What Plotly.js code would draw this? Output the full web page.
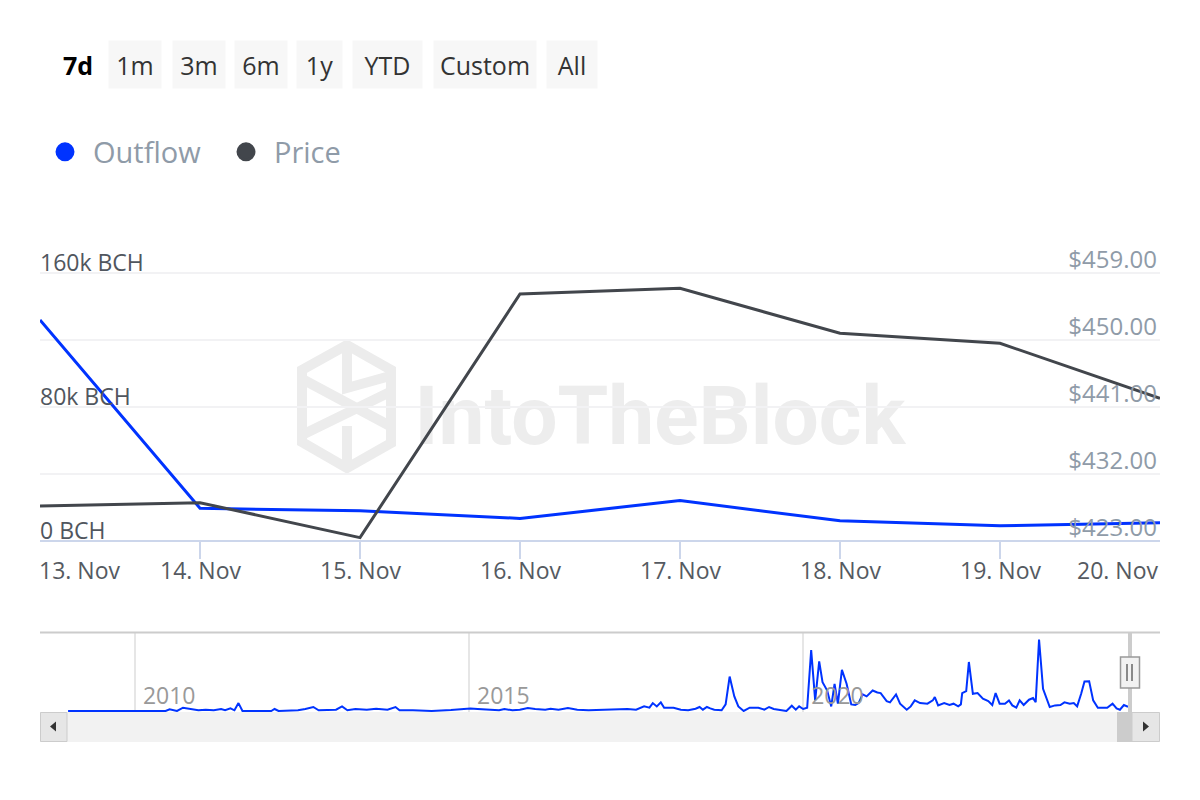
<!DOCTYPE html>
<html>
<head>
<meta charset="utf-8">
<script src="https://cdn.plot.ly/plotly-3.0.1.min.js"></script>
<style>
  html, body { margin: 0; padding: 0; background: #ffffff; }
  #chart { width: 1200px; height: 800px; }
</style>
</head>
<body>
<div id="chart"></div>
<script>
// ---------------- DATA ----------------
const dates = ['2024-11-13', '2024-11-14', '2024-11-15', '2024-11-16', '2024-11-17', '2024-11-18', '2024-11-19', '2024-11-20'];
const dateLabels = ['13. Nov', '14. Nov', '15. Nov', '16. Nov', '17. Nov', '18. Nov', '19. Nov', '20. Nov'];
const outflow = [132000, 19500, 18100, 13500, 24100, 12100, 9100, 10900];
const price = [427.70, 428.15, 423.45, 456.18, 456.95, 450.90, 449.56, 442.17];

const outflowTicks = [0, 80000, 160000];
const outflowTickText = ['0 BCH', '80k BCH', '160k BCH'];
const priceTicks = [423, 432, 441, 450, 459];

const seriesNames = ['Outflow', 'Price'];
const rangeButtons = ['7d', '1m', '3m', '6m', '1y', 'YTD', 'Custom', 'All'];

// navigator (full history, decimal years / relative outflow level)
const navYears = [
  2009.00, 2010.46, 2010.52, 2010.63, 2010.72, 2010.83, 2010.95, 2011.06, 2011.18, 2011.29,
  2011.35, 2011.43, 2011.49, 2011.55, 2011.61, 2012.04, 2012.09, 2012.15, 2012.44, 2012.55,
  2012.67, 2012.75, 2013.01, 2013.10, 2013.18, 2013.30, 2013.47, 2013.61, 2013.78, 2013.90,
  2013.96, 2014.16, 2014.44, 2014.73, 2014.90, 2015.02, 2015.13, 2015.30, 2015.45, 2015.53,
  2015.65, 2015.76, 2015.88, 2015.99, 2016.14, 2016.22, 2016.34, 2016.48, 2016.62, 2016.79,
  2017.02, 2017.20, 2017.37, 2017.50, 2017.62, 2017.70, 2017.75, 2017.81, 2017.87, 2017.92,
  2018.06, 2018.17, 2018.28, 2018.39, 2018.45, 2018.50, 2018.56, 2018.61, 2018.67, 2018.78,
  2018.84, 2018.90, 2018.97, 2019.03, 2019.11, 2019.20, 2019.33, 2019.42, 2019.49, 2019.56,
  2019.72, 2019.75, 2019.83, 2019.89, 2019.94, 2020.00, 2020.06, 2020.12, 2020.18, 2020.24,
  2020.29, 2020.36, 2020.42, 2020.47, 2020.52, 2020.58, 2020.65, 2020.72, 2020.78, 2020.83,
  2020.89, 2020.95, 2021.04, 2021.11, 2021.16, 2021.25, 2021.30, 2021.39, 2021.45, 2021.55,
  2021.61, 2021.67, 2021.75, 2021.86, 2021.94, 2021.97, 2022.02, 2022.11, 2022.19, 2022.25,
  2022.32, 2022.36, 2022.38, 2022.44, 2022.48, 2022.54, 2022.61, 2022.69, 2022.77, 2022.83,
  2022.88, 2022.94, 2023.02, 2023.08, 2023.13, 2023.19, 2023.24, 2023.30, 2023.38, 2023.44,
  2023.48, 2023.53, 2023.59, 2023.69, 2023.77, 2023.85, 2023.91, 2023.99, 2024.05, 2024.10,
  2024.16, 2024.21, 2024.28, 2024.34, 2024.41, 2024.55, 2024.63, 2024.69, 2024.74, 2024.80,
  2024.85, 2024.89
];
const navOutflow = [
  0, 0, 1.7, 0, 3.3, 2.0, 0.7, 1.3, 0.7, 2.0,
  0.7, 2.6, 0.7, 7.9, 0, 0, 2.0, 0, 0.7, 2.0,
  4.0, 0.7, 1.3, 4.6, 0.7, 2.0, 1.3, 2.3, 1.3, 4.0,
  0.7, 0.7, 0, 1.0, 2.0, 2.6, 2.0, 1.3, 0.7, 2.0,
  0.7, 1.3, 3.0, 2.0, 1.3, 2.3, 1.3, 3.0, 1.3, 0.7,
  1.3, 2.0, 2.0, 1.3, 4.6, 3.3, 7.9, 4.6, 8.6, 3.3,
  3.3, 1.3, 0.7, 2.3, 4.0, 1.3, 4.0, 2.6, 1.3, 0.7,
  6.6, 34.4, 14.6, 4.6, 0, 3.3, 3.3, 1.3, 4.0, 2.0,
  0.7, 0, 5.3, 1.3, 4.6, 2.0, 3.3, 60.9, 10.6, 49.7,
  28.8, 20.5, 4.6, 27.2, 7.3, 41.1, 27.2, 6.6, 6.0, 7.9,
  16.6, 14.6, 20.5, 18.5, 17.9, 9.9, 8.6, 16.6, 7.3, 1.3,
  4.6, 10.6, 7.9, 7.3, 10.6, 13.9, 5.6, 7.9, 6.0, 7.3,
  4.6, 6.6, 17.9, 19.9, 49.0, 17.2, 17.9, 12.3, 9.9, 6.0,
  17.9, 7.3, 7.3, 10.6, 5.6, 3.3, 10.6, 6.0, 11.3, 12.9,
  8.9, 71.5, 22.2, 4.0, 5.6, 6.0, 8.6, 7.3, 7.9, 4.6,
  17.2, 29.5, 29.8, 10.6, 3.3, 3.3, 7.3, 2.6, 1.3, 6.0,
  4.6, 4.6
];
const navTicks = [2010, 2015, 2020];
const navTickText = ['2010', '2015', '2020'];
const watermark = 'IntoTheBlock';

// ---------------- STYLE / LAYOUT ----------------
const W = 1200, H = 800;
const px = v => v / W;
const py = v => 1 - v / H;
const FONT = 'Open Sans, Noto Sans, sans-serif';
const BLUE = '#0033ff';
const DARK = '#42464c';

// plot area: gridlines 273..541 px; extra room above/below so edge labels stay visible
const TOP_PAD = 60, BOT_PAD = 16;
const OUT_MAX = 160000, PRICE_MIN = 423, PRICE_MAX = 459;
const plotH = 541 - 273;
const outPerPx = OUT_MAX / plotH;
const pricePerPx = (PRICE_MAX - PRICE_MIN) / plotH;
const outRange = [-outPerPx * BOT_PAD, OUT_MAX + outPerPx * TOP_PAD];
const priceRange = [PRICE_MIN - pricePerPx * BOT_PAD, PRICE_MAX + pricePerPx * TOP_PAD];
const priceTickText = priceTicks.map(v => '$' + v.toFixed(2));

const traces = [
  { x: dates, y: outflow, type: 'scatter', mode: 'lines', name: seriesNames[0],
    line: { color: BLUE, width: 3 }, xaxis: 'x', yaxis: 'y', showlegend: false, hoverinfo: 'skip' },
  { x: dates, y: price, type: 'scatter', mode: 'lines', name: seriesNames[1],
    line: { color: DARK, width: 3 }, xaxis: 'x', yaxis: 'y2', showlegend: false, hoverinfo: 'skip' },
  { x: navYears, y: navOutflow, type: 'scatter', mode: 'lines', name: seriesNames[0] + ' (navigator)',
    line: { color: BLUE, width: 2 }, xaxis: 'x2', yaxis: 'y3', showlegend: false, hoverinfo: 'skip' },
  { x: [null], y: [null], type: 'scatter', mode: 'markers', name: seriesNames[0],
    marker: { color: BLUE, size: 16, line: { color: BLUE, width: 3 } }, xaxis: 'x', yaxis: 'y' },
  { x: [null], y: [null], type: 'scatter', mode: 'markers', name: seriesNames[1],
    marker: { color: DARK, size: 16, line: { color: DARK, width: 3 } }, xaxis: 'x', yaxis: 'y' }
];

// range-selector button boxes [left px, width px]
const btnBoxes = [[58, 38], [108, 52], [172, 52], [234, 52], [296, 45], [352, 69], [433, 102], [546, 50]];
const annotations = [];
rangeButtons.forEach((b, i) => {
  const active = i === 0;
  annotations.push({
    xref: 'paper', yref: 'paper', x: px(btnBoxes[i][0]), xanchor: 'left',
    y: py(64.5), yanchor: 'middle', showarrow: false,
    text: active ? '<b>' + b + '</b>' : b, width: btnBoxes[i][1], height: 47, borderpad: 0,
    align: 'center', valign: 'middle',
    bgcolor: active ? 'rgba(0,0,0,0)' : '#f7f7f7',
    font: { family: FONT, size: 25, color: active ? '#000000' : '#333333' }
  });
});
// x tick labels (first left-aligned, last right-aligned, like the original)
dates.forEach((d, i) => {
  annotations.push({
    xref: 'x', yref: 'paper', x: d, y: py(570), yanchor: 'middle', showarrow: false,
    xanchor: i === 0 ? 'left' : (i === dates.length - 1 ? 'right' : 'center'),
    xshift: i === 0 ? -3 : 0,
    text: dateLabels[i], font: { family: FONT, size: 23, color: '#555a61' }
  });
});

const GRID_LINE = { color: '#cccccc', width: 2 };
const shapes = [
  // watermark logo
  { type: 'path', xref: 'paper', yref: 'paper', layer: 'below',
    path: 'M' + px(347) + ',' + py(345) + ' L' + px(391) + ',' + py(370) + ' L' + px(391) + ',' + py(443) +
          ' L' + px(347) + ',' + py(468) + ' L' + px(302) + ',' + py(442) + ' L' + px(302) + ',' + py(370) + ' Z',
    line: { color: '#ececec', width: 10 } },
  { type: 'path', xref: 'paper', yref: 'paper', layer: 'below',
    path: 'M' + px(347) + ',' + py(348) + ' L' + px(347) + ',' + py(388) + ' L' + px(390) + ',' + py(376) +
          ' M' + px(304) + ',' + py(380) + ' L' + px(390) + ',' + py(426) +
          ' M' + px(304) + ',' + py(434) + ' L' + px(390) + ',' + py(392) +
          ' M' + px(347) + ',' + py(426) + ' L' + px(347) + ',' + py(465),
    line: { color: '#ececec', width: 10 } },
  // watermark text (drawn under the lines)
  { type: 'rect', xref: 'paper', yref: 'paper', layer: 'below',
    x0: px(410), x1: px(910), y0: py(450), y1: py(370),
    line: { width: 0 }, fillcolor: 'rgba(0,0,0,0)',
    label: { text: '<b>' + watermark + '</b>', textposition: 'middle center',
             font: { family: 'Roboto, Open Sans, sans-serif', size: 82, color: '#ededed' } } },
  // navigator top border
  { type: 'line', xref: 'paper', yref: 'paper', x0: px(40), x1: px(1160), y0: py(632.5), y1: py(632.5), line: GRID_LINE },
  // scrollbar
  { type: 'rect', xref: 'paper', yref: 'paper', x0: px(40), x1: px(1160), y0: py(742), y1: py(712),
    fillcolor: '#f2f2f2', line: { width: 0 } },
  { type: 'rect', xref: 'paper', yref: 'paper', x0: px(40.5), x1: px(67), y0: py(741.5), y1: py(712.5),
    fillcolor: '#e6e6e6', line: { color: '#cccccc', width: 1 } },
  { type: 'rect', xref: 'paper', yref: 'paper', x0: px(1132), x1: px(1159.5), y0: py(741.5), y1: py(712.5),
    fillcolor: '#e6e6e6', line: { color: '#cccccc', width: 1 } },
  { type: 'rect', xref: 'paper', yref: 'paper', x0: px(1117), x1: px(1132), y0: py(742), y1: py(712),
    fillcolor: '#cccccc', line: { width: 0 } },
  { type: 'path', xref: 'paper', yref: 'paper',
    path: 'M' + px(50) + ',' + py(726.5) + ' L' + px(56) + ',' + py(721.5) + ' L' + px(56) + ',' + py(731.5) + ' Z',
    fillcolor: '#333333', line: { width: 0 } },
  { type: 'path', xref: 'paper', yref: 'paper',
    path: 'M' + px(1149) + ',' + py(726.5) + ' L' + px(1143) + ',' + py(721.5) + ' L' + px(1143) + ',' + py(731.5) + ' Z',
    fillcolor: '#333333', line: { width: 0 } },
  // navigator handle
  { type: 'line', xref: 'paper', yref: 'paper', x0: px(1130), x1: px(1130), y0: py(633), y1: py(712),
    line: { color: '#cccccc', width: 4 } },
  { type: 'rect', xref: 'paper', yref: 'paper', x0: px(1120.5), x1: px(1139.5), y0: py(688), y1: py(657),
    fillcolor: '#f2f2f2', line: { color: '#999999', width: 1.5 } },
  { type: 'line', xref: 'paper', yref: 'paper', x0: px(1127), x1: px(1127), y0: py(664), y1: py(681),
    line: { color: '#666666', width: 1.5 } },
  { type: 'line', xref: 'paper', yref: 'paper', x0: px(1132), x1: px(1132), y0: py(664), y1: py(681),
    line: { color: '#666666', width: 1.5 } }
];

const layout = {
  width: W, height: H,
  margin: { l: 0, r: 0, t: 0, b: 0, pad: 0 },
  paper_bgcolor: '#ffffff', plot_bgcolor: 'rgba(0,0,0,0)',
  font: { family: FONT },
  showlegend: true,
  legend: {
    orientation: 'h', x: px(37), xanchor: 'left', y: py(152), yanchor: 'middle',
    itemwidth: 46, entrywidth: 120, entrywidthmode: 'pixels',
    font: { family: FONT, size: 29, color: '#8f9ba8' }, bgcolor: 'rgba(0,0,0,0)',
    itemclick: false, itemdoubleclick: false
  },
  xaxis: {
    type: 'date', domain: [px(40), px(1160)], anchor: 'free', position: py(541),
    range: [dates[0], dates[dates.length - 1]],
    tickmode: 'array', tickvals: dates, showticklabels: false,
    ticks: 'outside', ticklen: 17, tickwidth: 2, tickcolor: '#ccd6eb',
    showline: true, linecolor: '#ccd6eb', linewidth: 2,
    showgrid: false, zeroline: false, fixedrange: true
  },
  yaxis: {
    domain: [py(541 + BOT_PAD), py(273 - TOP_PAD)], anchor: 'x', range: outRange,
    tickmode: 'array', tickvals: outflowTicks, ticktext: outflowTickText,
    ticklabelposition: 'inside top', ticks: '', ticklabelshift: 6, ticklabelstandoff: -3,
    tickfont: { family: FONT, size: 23, color: '#50565e' },
    showgrid: false, zeroline: false, showline: false, fixedrange: true
  },
  yaxis2: {
    overlaying: 'y', side: 'right', anchor: 'x', range: priceRange,
    tickmode: 'array', tickvals: priceTicks, ticktext: priceTickText,
    ticklabelposition: 'inside top', ticks: '', ticklabelshift: 3,
    tickfont: { family: FONT, size: 24, color: '#8f9ba8' },
    showgrid: true, gridcolor: '#f2f2f4', gridwidth: 2,
    zeroline: false, showline: false, fixedrange: true
  },
  xaxis2: {
    domain: [px(40), px(1160)], anchor: 'y3', range: [2008.58, 2025.34],
    tickmode: 'array', tickvals: navTicks, ticktext: navTickText,
    ticklabelposition: 'inside right', ticks: '', ticklabelshift: 8, ticklabelstandoff: -3,
    tickfont: { family: FONT, size: 23, color: '#999999' },
    showgrid: true, gridcolor: '#e6e6e6', gridwidth: 2,
    zeroline: false, showline: false, fixedrange: true
  },
  yaxis3: {
    domain: [py(712), py(633)], anchor: 'x2', range: [-1, 78],
    showticklabels: false, ticks: '', showgrid: false, zeroline: false, showline: false, fixedrange: true
  },
  annotations: annotations,
  shapes: shapes
};

Plotly.newPlot('chart', traces, layout, { displayModeBar: false, staticPlot: false, responsive: false });
</script>
</body>
</html>
